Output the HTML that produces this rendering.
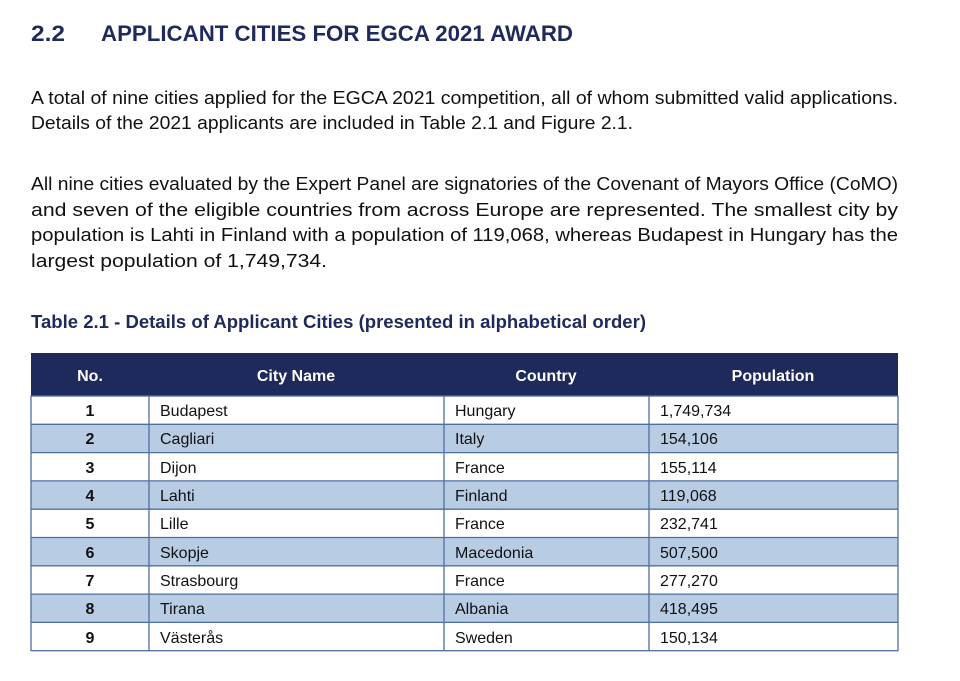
<!DOCTYPE html>
<html><head><meta charset="utf-8"><style>
html,body{margin:0;padding:0;background:#fff;}
svg{display:block;font-family:"Liberation Sans",sans-serif;}
</style></head><body>
<svg width="960" height="681" viewBox="0 0 960 681" xmlns="http://www.w3.org/2000/svg">
<rect width="960" height="681" fill="#fff"/>
<g fill="#1f2a5c" font-weight="bold" font-size="22">
<text x="31" y="41" textLength="34" lengthAdjust="spacingAndGlyphs">2.2</text>
<text x="101" y="41" textLength="472" lengthAdjust="spacingAndGlyphs">APPLICANT CITIES FOR EGCA 2021 AWARD</text>
</g>
<g fill="#111" font-size="18">
<text x="31" y="104" textLength="867" lengthAdjust="spacingAndGlyphs">A total of nine cities applied for the EGCA 2021 competition, all of whom submitted valid applications.</text>
<text x="31" y="129" textLength="602" lengthAdjust="spacingAndGlyphs">Details of the 2021 applicants are included in Table 2.1 and Figure 2.1.</text>
<text x="31" y="190" textLength="867" lengthAdjust="spacingAndGlyphs">All nine cities evaluated by the Expert Panel are signatories of the Covenant of Mayors Office (CoMO)</text>
<text x="31" y="216" textLength="867" lengthAdjust="spacingAndGlyphs">and seven of the eligible countries from across Europe are represented. The smallest city by</text>
<text x="31" y="241" textLength="867" lengthAdjust="spacingAndGlyphs">population is Lahti in Finland with a population of 119,068, whereas Budapest in Hungary has the</text>
<text x="31" y="267" textLength="296" lengthAdjust="spacingAndGlyphs">largest population of 1,749,734.</text>
</g>
<text x="31" y="328" fill="#1f2a5c" font-weight="bold" font-size="18" textLength="615" lengthAdjust="spacingAndGlyphs">Table 2.1 - Details of Applicant Cities (presented in alphabetical order)</text>

<rect x="31" y="353" width="867" height="43" fill="#1f2a5c"/>
<g fill="#fff" font-weight="bold" font-size="16" text-anchor="middle">
<text x="90" y="381">No.</text>
<text x="296" y="381">City Name</text>
<text x="546" y="381">Country</text>
<text x="773" y="381">Population</text>
</g>
<g font-size="16" fill="#111">
<rect x="31" y="424.3" width="867" height="28.3" fill="#b8cce4"/>
<rect x="31" y="480.9" width="867" height="28.3" fill="#b8cce4"/>
<rect x="31" y="537.5" width="867" height="28.3" fill="#b8cce4"/>
<rect x="31" y="594.1" width="867" height="28.3" fill="#b8cce4"/>
</g>
<g stroke="#4f6fa0" stroke-width="1.3" fill="none">
<rect x="31" y="396" width="867" height="254.7"/>
<line x1="31" x2="898" y1="424.3" y2="424.3"/><line x1="31" x2="898" y1="452.6" y2="452.6"/>
<line x1="31" x2="898" y1="480.9" y2="480.9"/><line x1="31" x2="898" y1="509.2" y2="509.2"/>
<line x1="31" x2="898" y1="537.5" y2="537.5"/><line x1="31" x2="898" y1="565.8" y2="565.8"/>
<line x1="31" x2="898" y1="594.1" y2="594.1"/><line x1="31" x2="898" y1="622.4" y2="622.4"/>
<line x1="149" x2="149" y1="396" y2="651"/><line x1="444" x2="444" y1="396" y2="651"/>
<line x1="649" x2="649" y1="396" y2="651"/>
</g>
<g font-size="16" fill="#111">
<g font-weight="bold" text-anchor="middle">
<text x="90" y="416">1</text><text x="90" y="444">2</text><text x="90" y="473">3</text>
<text x="90" y="501">4</text><text x="90" y="529">5</text><text x="90" y="558">6</text>
<text x="90" y="586">7</text><text x="90" y="614">8</text><text x="90" y="643">9</text>
</g>
<text x="160" y="416">Budapest</text><text x="455" y="416">Hungary</text><text x="660" y="416">1,749,734</text>
<text x="160" y="444">Cagliari</text><text x="455" y="444">Italy</text><text x="660" y="444">154,106</text>
<text x="160" y="473">Dijon</text><text x="455" y="473">France</text><text x="660" y="473">155,114</text>
<text x="160" y="501">Lahti</text><text x="455" y="501">Finland</text><text x="660" y="501">119,068</text>
<text x="160" y="529">Lille</text><text x="455" y="529">France</text><text x="660" y="529">232,741</text>
<text x="160" y="558">Skopje</text><text x="455" y="558">Macedonia</text><text x="660" y="558">507,500</text>
<text x="160" y="586">Strasbourg</text><text x="455" y="586">France</text><text x="660" y="586">277,270</text>
<text x="160" y="614">Tirana</text><text x="455" y="614">Albania</text><text x="660" y="614">418,495</text>
<text x="160" y="643">Västerås</text><text x="455" y="643">Sweden</text><text x="660" y="643">150,134</text>
</g>
</svg>
</body></html>
